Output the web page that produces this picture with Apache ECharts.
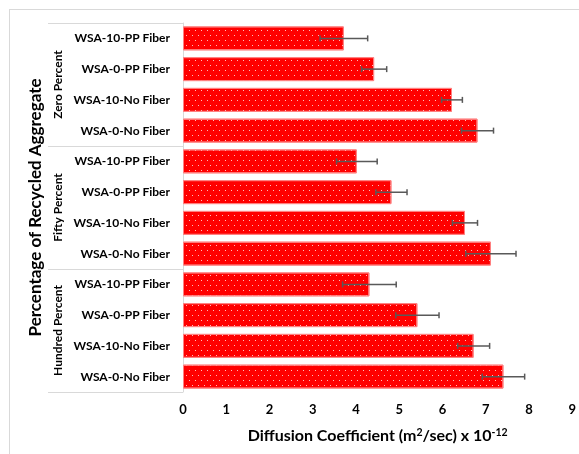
<!DOCTYPE html>
<html>
<head>
<meta charset="utf-8">
<script src="https://cdn.jsdelivr.net/npm/echarts@6/dist/echarts.min.js"></script>
<style>
  html, body { margin: 0; padding: 0; background: #fff; }
  #chart { position: absolute; left: 0; top: 0; width: 579px; height: 454px; }
  #frame { position: absolute; left: 9px; top: 9px; width: 600px; height: 480px;
           border-left: 1px solid #d9d9d9; border-top: 1px solid #d9d9d9; pointer-events: none; }
</style>
</head>
<body>
<div id="chart"></div>
<div id="frame"></div>
<script>
// ---- data (top to bottom) ----
const categories = [
  'WSA-10-PP Fiber', 'WSA-0-PP Fiber', 'WSA-10-No Fiber', 'WSA-0-No Fiber',
  'WSA-10-PP Fiber', 'WSA-0-PP Fiber', 'WSA-10-No Fiber', 'WSA-0-No Fiber',
  'WSA-10-PP Fiber', 'WSA-0-PP Fiber', 'WSA-10-No Fiber', 'WSA-0-No Fiber'
];
const groups = ['Zero Percent', 'Fifty Percent', 'Hundred Percent'];
const values = [3.72, 4.42, 6.22, 6.81, 4.02, 4.82, 6.52, 7.12, 4.31, 5.42, 6.72, 7.41];
const errors = [0.55, 0.29, 0.24, 0.37, 0.47, 0.36, 0.29, 0.58, 0.62, 0.50, 0.37, 0.49];
const xTicks = [0, 9, 1]; // min, max, interval

const FONT = 'Lato, "Open Sans", sans-serif';
const errData = values.map((v, i) => [v - errors[i], i, v + errors[i]]);

const chart = echarts.init(document.getElementById('chart'), null, { renderer: 'canvas' });
chart.setOption({
  animation: false,
  backgroundColor: 'transparent',
  grid: { left: 183, right: 6, top: 23, bottom: 62, containLabel: false },
  xAxis: {
    type: 'value', min: xTicks[0], max: xTicks[1], interval: xTicks[2],
    axisLine: { show: false }, axisTick: { show: false }, splitLine: { show: false },
    axisLabel: { fontFamily: FONT, fontWeight: 'bold', fontSize: 13, color: '#000', margin: 11 },
    name: 'Diffusion Coefficient (m{sup|2}/sec) x 10{sup|-12}',
    nameLocation: 'middle', nameGap: 35,
    nameTextStyle: {
      fontFamily: FONT, fontWeight: 'bold', fontSize: 16, color: '#000',
      rich: { sup: { fontFamily: FONT, fontWeight: 'bold', fontSize: 10.5, color: '#000', verticalAlign: 'top', padding: [0, 0, 6, 0] } }
    }
  },
  yAxis: [
    {
      type: 'category', data: categories, inverse: true,
      axisLine: { show: true, lineStyle: { color: '#d9d9d9', width: 1 } },
      axisTick: { show: false },
      axisLabel: { fontFamily: FONT, fontWeight: 'bold', fontSize: 12, color: '#000', margin: 13 }
    },
    {
      type: 'category', data: groups, inverse: true, position: 'left',
      axisLine: { show: false },
      axisTick: { show: true, length: 135, lineStyle: { color: '#d9d9d9', width: 1 } },
      axisLabel: { fontFamily: FONT, fontWeight: 'bold', fontSize: 12, color: '#000', rotate: 90, margin: 119 },
      name: 'Percentage of Recycled Aggregate', nameLocation: 'middle', nameGap: 137,
      nameTextStyle: { fontFamily: FONT, fontWeight: 'bold', fontSize: 17, color: '#000' }
    }
  ],
  series: [
    {
      type: 'bar', yAxisIndex: 0, data: values, barCategoryGap: '22%',
      itemStyle: {
        color: '#ff0000', borderColor: '#ff8080', borderWidth: 1,
        decal: {
          symbol: 'rect', symbolSize: 1, color: 'rgba(255,220,220,0.85)',
          dashArrayX: [[1, 5], [0, 3, 1, 2]], dashArrayY: [1, 3.5], rotation: 0
        }
      }
    },
    {
      type: 'custom', yAxisIndex: 0, data: errData, z: 5,
      encode: { x: [0, 2], y: 1 },
      renderItem: function (params, api) {
        const c = api.value(1);
        const lo = api.coord([api.value(0), c]);
        const hi = api.coord([api.value(2), c]);
        const h = 3;
        const st = { stroke: '#595959', lineWidth: 1.5 };
        return {
          type: 'group', children: [
            { type: 'line', shape: { x1: lo[0], y1: lo[1], x2: hi[0], y2: hi[1] }, style: st },
            { type: 'line', shape: { x1: lo[0], y1: lo[1] - h, x2: lo[0], y2: lo[1] + h }, style: st },
            { type: 'line', shape: { x1: hi[0], y1: hi[1] - h, x2: hi[0], y2: hi[1] + h }, style: st }
          ]
        };
      }
    }
  ]
});
</script>
</body>
</html>
